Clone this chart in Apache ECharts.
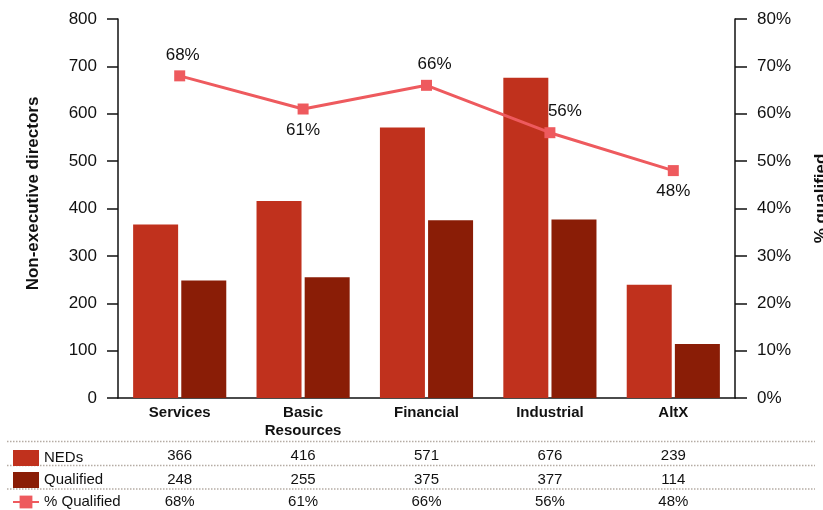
<!DOCTYPE html>
<html>
<head>
<meta charset="utf-8">
<script src="https://cdn.jsdelivr.net/npm/echarts@6/dist/echarts.min.js"></script>
<style>html,body{margin:0;padding:0;background:#fff;}#c{width:823px;height:510px;}</style>
</head>
<body>
<div id="c"></div>
<script>
const categories = ['Services', 'Basic\nResources', 'Financial', 'Industrial', 'AltX'];
const neds = [366, 416, 571, 676, 239];
const qualified = [248, 255, 375, 377, 114];
const pctQualified = [68, 61, 66, 56, 48];
const leftTicks = {min: 0, max: 800, interval: 100};
const rightTicks = {min: 0, max: 80, interval: 10};

const labelPositions = ['top', 'bottom', 'top', 'top', 'bottom'];
const labelOffsets = [[3, 0], [0, 0], [8, 0], [15, 0], [0, 0]];

const FONT = '"Liberation Sans", Arial, Helvetica, sans-serif';
const C_NED = '#c0311d';
const C_QUAL = '#8a1d06';
const C_PCT = '#ee5a5e';

const chart = echarts.init(document.getElementById('c'), null, {renderer: 'canvas'});

function tableAxis(values, offset, fmt) {
  return {
    type: 'category', gridIndex: 0, position: 'bottom', offset: offset,
    data: values.map(v => fmt ? fmt(v) : String(v)),
    axisLine: {show: false}, axisTick: {show: false},
    axisLabel: {margin: 0, color: '#111', fontFamily: FONT, fontSize: 15, verticalAlign: 'top', interval: 0}
  };
}

const dotRows = [441.5, 465.5, 489];

chart.setOption({
  animation: false,
  textStyle: {fontFamily: FONT},
  grid: {left: 118, right: 88, top: 19, bottom: 112, containLabel: false, outerBoundsMode: 'none'},
  legend: {
    orient: 'vertical', left: 7, top: 445, height: 80, itemGap: 6, itemWidth: 26, itemHeight: 16,
    textStyle: {fontFamily: FONT, fontSize: 15, color: '#111', lineHeight: 16},
    data: [
      {name: 'NEDs', icon: 'rect'},
      {name: 'Qualified', icon: 'rect'},
      {name: '% Qualified'}
    ]
  },
  graphic: dotRows.map(y => ({
    type: 'line', shape: {x1: 7, y1: y, x2: 815, y2: y},
    style: {stroke: '#b5aca4', lineWidth: 1.5, lineDash: [1.5, 1.5]}, silent: true
  })),
  xAxis: [
    {
      type: 'category', data: categories,
      axisLine: {lineStyle: {color: '#111', width: 1.5}},
      axisTick: {length: 8, lineStyle: {color: '#111', width: 1.5}},
      axisLabel: {color: '#111', fontFamily: FONT, fontSize: 15, fontWeight: 'bold', margin: 6, lineHeight: 18, interval: 0}
    },
    tableAxis(neds, 50),
    tableAxis(qualified, 74),
    tableAxis(pctQualified, 96, v => v + '%')
  ],
  yAxis: [
    {
      type: 'value', min: leftTicks.min, max: leftTicks.max, interval: leftTicks.interval,
      name: 'Non-executive directors', nameLocation: 'middle', nameGap: 76,
      nameTextStyle: {fontFamily: FONT, fontSize: 17, fontWeight: 'bold', color: '#111', padding: [0, 0, 0, 30]},
      axisLine: {show: true, lineStyle: {color: '#111', width: 1.5}},
      axisTick: {show: true, length: 11, lineStyle: {color: '#111', width: 1.5}},
      axisLabel: {color: '#111', fontFamily: FONT, fontSize: 17, margin: 21},
      splitLine: {show: false}
    },
    {
      type: 'value', min: rightTicks.min, max: rightTicks.max, interval: rightTicks.interval, position: 'right',
      name: '% qualified', nameLocation: 'middle', nameGap: 78,
      nameTextStyle: {fontFamily: FONT, fontSize: 17, fontWeight: 'bold', color: '#111', padding: [0, 0, 0, 20]},
      axisLine: {show: true, lineStyle: {color: '#111', width: 1.5}},
      axisTick: {show: true, length: 12, lineStyle: {color: '#111', width: 1.5}},
      axisLabel: {color: '#111', fontFamily: FONT, fontSize: 17, margin: 22, formatter: '{value}%'},
      splitLine: {show: false}
    }
  ],
  series: [
    {
      name: 'NEDs', type: 'bar', data: neds, barWidth: 45, barGap: '7%',
      itemStyle: {color: C_NED}
    },
    {
      name: 'Qualified', type: 'bar', data: qualified, barWidth: 45,
      itemStyle: {color: C_QUAL}
    },
    {
      name: '% Qualified', type: 'line', yAxisIndex: 1,
      data: pctQualified.map((v, i) => ({
        value: v,
        label: {position: labelPositions[i], offset: labelOffsets[i]}
      })),
      symbol: 'rect', symbolSize: 11,
      lineStyle: {color: C_PCT, width: 3},
      itemStyle: {color: C_PCT},
      label: {show: true, formatter: '{c}%', fontFamily: FONT, fontSize: 17, color: '#111', distance: 7},
      z: 5
    }
  ]
});
</script>
</body>
</html>
